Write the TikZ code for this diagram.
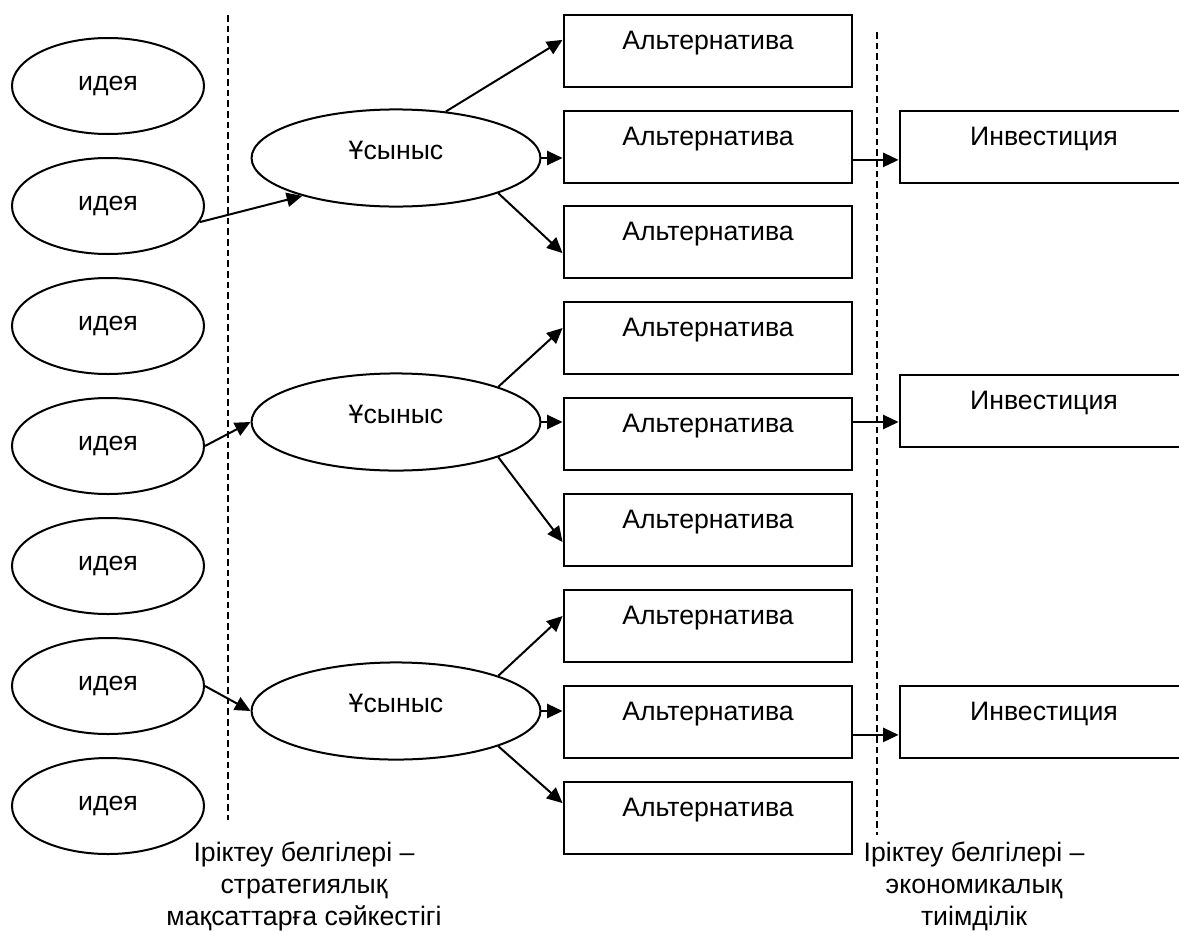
\documentclass[tikz,border=0pt]{standalone}
\usepackage{fontspec}
\setmainfont{Liberation Sans}
\usetikzlibrary{arrows.meta,shapes.geometric}

\begin{document}
\begin{tikzpicture}[x=0.45pt,y=-0.45pt,font=\fontsize{12}{14.4}\selectfont,
  idea/.style={ellipse,draw,line width=0.9pt,minimum width=86.4pt,minimum height=43.2pt,inner sep=0pt,text height=7pt,text depth=2.6pt},
  offer/.style={idea,minimum width=130pt,minimum height=43.7pt,text depth=6pt},
  alt/.style={rectangle,draw,line width=0.9pt,minimum width=130pt,minimum height=32.4pt,inner sep=0pt,text height=9pt,text depth=10pt},
  arr/.style={line width=0.9pt,-{Triangle[length=7pt,width=6.4pt]}},
  cut/.style={line width=0.7pt,dash pattern=on 3pt off 1.8pt}]

\useasboundingbox (0,0) rectangle (1179,932);

% ideas
\foreach \k in {1,...,7}
  \node[idea] (i\k) at (108,{-34+120*\k}) {идея};

% proposals
\node[offer] (p1) at (396,158) {Ұсыныс};
\node[offer] (p2) at (396,422) {Ұсыныс};
\node[offer] (p3) at (396,711) {Ұсыныс};

% alternatives and investments
\foreach \y [count=\k] in {51,147,242,338,434,530,626,722,818}
  \node[alt] (a\k) at (708,\y) {Альтернатива};
\foreach \y [count=\k] in {147,411,722}
  \node[alt] (v\k) at (1044,\y) {Инвестиция};

% selection borders
\coordinate (c1) at (228,15);
\coordinate (c2) at (228,820);
\coordinate (c3) at (877,32);
\coordinate (c4) at (877,835);
\draw[cut] (c1) -- (c2);
\draw[cut] (c3) -- (c4);

\draw[arr] (i2.350) -- (p1.202);
\draw[arr] (i4.east) -- (p2.west);
\draw[arr] (i6.east) -- (p3.west);

\draw[arr] (p1.43) -- ([yshift=5pt]a1.west);
\draw[arr] (p1.east) -- (p1.east -| a2.west);
\draw[arr] (p1.-19) -- ([yshift=-5pt]a3.west);
\draw[arr] (p2.19) -- ([yshift=4.5pt]a4.west);
\draw[arr] (p2.east) -- (p2.east -| a5.west);
\draw[arr] (p2.-19) -- ([yshift=-5.4pt]a6.west);
\draw[arr] (p3.19) -- ([yshift=4.5pt]a7.west);
\draw[arr] (p3.east) -- (p3.east -| a8.west);
\draw[arr] (p3.-19) -- ([yshift=6.7pt]a9.west);

\draw[arr] ([yshift=-5.8pt]a2.east) -- ([yshift=-5.8pt]a2.east -| v1.west);
\draw[arr] ([yshift=5.4pt]a5.east) -- ([yshift=5.4pt]a5.east -| v2.west);
\draw[arr] ([yshift=-5.8pt]a8.east) -- ([yshift=-5.8pt]a8.east -| v3.west);

\node[align=center] (s1) at (304,886) {Іріктеу белгілері –\\стратегиялық\\мақсаттарға сәйкестігі};
\node[align=center] (s2) at (974,886) {Іріктеу белгілері –\\экономикалық\\тиімділік};

\end{tikzpicture}
\end{document}
